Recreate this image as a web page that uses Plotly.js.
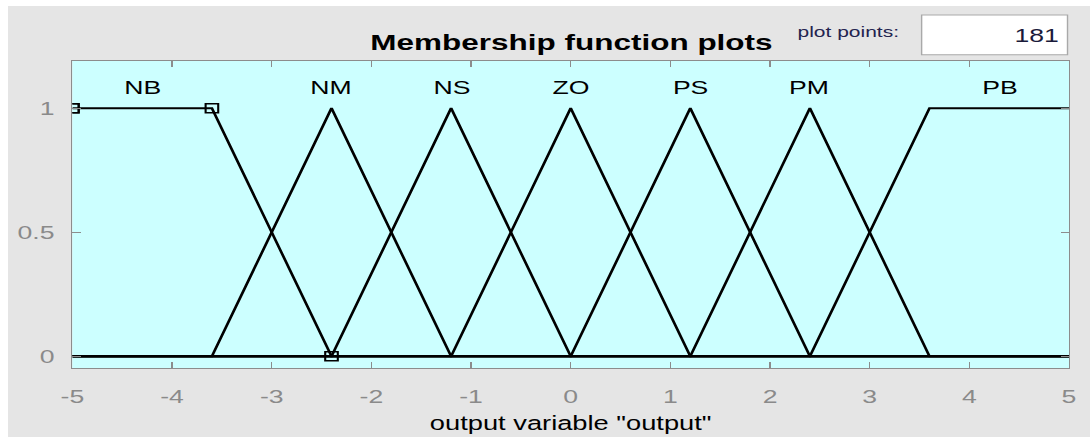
<!DOCTYPE html>
<html>
<head>
<meta charset="utf-8">
<script src="https://cdn.plot.ly/plotly-3.0.1.min.js"></script>
<style>
  html, body { margin: 0; padding: 0; background: #ffffff; width: 1090px; height: 437px; overflow: hidden; }
  #frame { position: absolute; left: 8px; top: 6px; width: 1082px; height: 431px; overflow: hidden; }
  #chart { width: 773px; height: 431px; transform-origin: 0 0; }
</style>
</head>
<body>
<div id="frame"><div id="chart"></div></div>
<script>
// Output variable range and its membership functions
const xRange = [-5, 5];
const mfNames = ['NB', 'NM', 'NS', 'ZO', 'PS', 'PM', 'PB'];
const mfTypes = ['trapmf', 'trimf', 'trimf', 'trimf', 'trimf', 'trimf', 'trapmf'];
const mfParams = [
  [-5, -5, -3.6, -2.4],
  [-3.6, -2.4, -1.2],
  [-2.4, -1.2, 0],
  [-1.2, 0, 1.2],
  [0, 1.2, 2.4],
  [1.2, 2.4, 3.6],
  [2.4, 3.6, 5, 5]
];
const selectedMf = 0;
const plotPoints = 181;
const variableLabel = 'output variable "output"';
const xTickVals = [-5, -4, -3, -2, -1, 0, 1, 2, 3, 4, 5];
const xTickLabels = ['-5', '-4', '-3', '-2', '-1', '0', '1', '2', '3', '4', '5'];
const yTickVals = [0, 0.5, 1];
const yTickLabels = ['0', '0.5', '1'];

// Membership evaluation
function asTrap(type, p) { return type === 'trimf' ? [p[0], p[1], p[1], p[2]] : p; }
function evalMf(type, p, x) {
  const [a, b, c, d] = asTrap(type, p);
  if (x < a || x > d) return 0;
  if (x >= b && x <= c) return 1;
  if (x < b) return (x - a) / (b - a);
  return (d - x) / (d - c);
}
function peakCentre(type, p) {
  const t = asTrap(type, p);
  return (t[1] + t[2]) / 2;
}

// Frame geometry: the figure is drawn narrow and widened horizontally
const W = 773, H = 431;
const S = 1082 / W;
const ox = 8, oy = 6;
const toX = p => (p - ox) / S;
const toY = p => p - oy;
const plotL = toX(72), plotR = toX(1069.5), plotT = toY(60.5), plotB = toY(368.3);
const pw = plotR - plotL, ph = plotB - plotT;
const paperX = p => (toX(p) - plotL) / pw;
const paperY = p => (plotB - toY(p)) / ph;
document.getElementById('chart').style.transform = 'scaleX(' + S + ')';

const FONT = 'Liberation Sans, Arial, Helvetica, sans-serif';

const traces = mfNames.map((name, i) => {
  const xs = [xRange[0], ...mfParams[i], xRange[1]];
  return {
    type: 'scatter', mode: 'lines', name: name,
    x: xs,
    y: xs.map(x => evalMf(mfTypes[i], mfParams[i], x)),
    line: { color: '#000000', width: 2 },
    hoverinfo: 'skip', showlegend: false
  };
});

// Handles on the selected membership function
traces.push({
  type: 'scatter', mode: 'markers',
  x: mfParams[selectedMf],
  y: mfParams[selectedMf].map(x => evalMf(mfTypes[selectedMf], mfParams[selectedMf], x)),
  marker: { symbol: 'square-open', size: 9, color: '#000000', line: { width: 1.5 } },
  hoverinfo: 'skip', showlegend: false
});

const annotations = mfNames.map((name, i) => ({
  text: name, xref: 'x', yref: 'y',
  x: peakCentre(mfTypes[i], mfParams[i]), y: 1.082,
  xanchor: 'center', yanchor: 'middle', showarrow: false,
  font: { family: FONT, size: 19, color: '#000000' }
}));
annotations.push({
  text: 'plot points:', xref: 'paper', yref: 'paper',
  x: paperX(849), y: paperY(31), xanchor: 'center', yanchor: 'middle', showarrow: false,
  font: { family: FONT, size: 15, color: '#23234f' }
});
annotations.push({
  text: String(plotPoints), xref: 'paper', yref: 'paper',
  x: paperX(1063), y: paperY(34.5), xanchor: 'right', yanchor: 'middle', showarrow: false,
  font: { family: FONT, size: 19, color: '#1a1a3a' }
});

const axisCommon = {
  ticks: 'inside', ticklen: 6, tickwidth: 1, tickcolor: '#8c8c8c',
  showline: true, linecolor: '#8c8c8c', linewidth: 1, mirror: 'ticks',
  showgrid: false, zeroline: false, fixedrange: true,
  tickfont: { family: FONT, size: 19, color: '#8a8a8a' }
};

const layout = {
  width: W, height: H,
  margin: { l: plotL, r: W - plotR, t: plotT, b: H - plotB, pad: 0 },
  paper_bgcolor: '#e5e5e5',
  plot_bgcolor: '#ccffff',
  title: {
    text: 'Membership function plots',
    font: { family: FONT, size: 22.5, color: '#000000', weight: 'bold' },
    xref: 'paper', x: paperX(571.5), xanchor: 'center',
    yref: 'container', y: 1 - toY(42) / H, yanchor: 'middle'
  },
  xaxis: Object.assign({}, axisCommon, {
    range: xRange, tickmode: 'array', tickvals: xTickVals, ticktext: xTickLabels,
    ticklabelstandoff: 11,
    title: { text: variableLabel, font: { family: FONT, size: 19.5, color: '#000000' }, standoff: 10 }
  }),
  yaxis: Object.assign({}, axisCommon, {
    range: [-0.047, 1.19], tickmode: 'array', tickvals: yTickVals, ticktext: yTickLabels,
    ticklabelstandoff: 8
  }),
  shapes: [{
    type: 'rect', xref: 'paper', yref: 'paper',
    x0: paperX(922), x1: paperX(1068), y0: paperY(54.3), y1: paperY(14.3),
    fillcolor: '#ffffff', line: { color: '#a9a9a9', width: 1 }
  }],
  annotations: annotations,
  showlegend: false
};

Plotly.newPlot('chart', traces, layout, { staticPlot: true, displayModeBar: false });
</script>
</body>
</html>
